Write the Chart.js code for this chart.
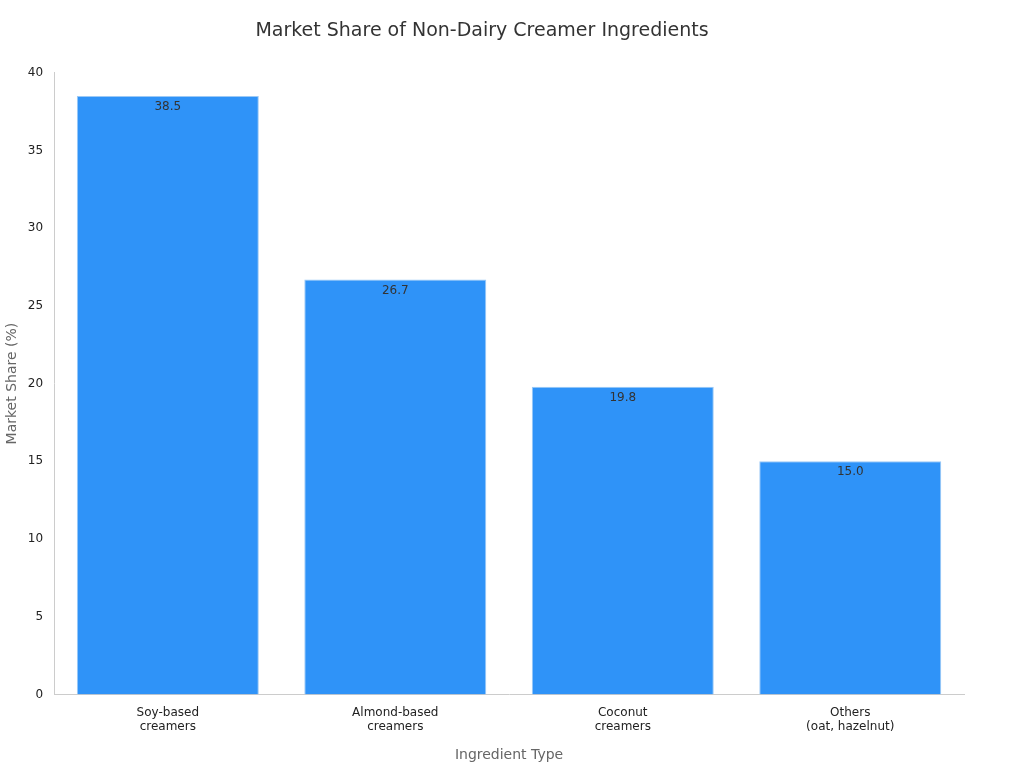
<!DOCTYPE html>
<html><head><meta charset="utf-8">
<script src="https://cdn.jsdelivr.net/npm/chart.js@4"></script>
<style>body{margin:0;background:#fff}#w{width:1024px;height:768px}</style>
</head><body><div id="w"><canvas id="c"></canvas></div>
<script>
const categories = [["Soy-based","creamers"],["Almond-based","creamers"],["Coconut","creamers"],["Others","(oat, hazelnut)"]];
const shares = [38.5, 26.7, 19.8, 15.0];
Chart.defaults.font.family = "DejaVu Sans";
const labelPlugin = {
  id: 'lbl',
  afterDatasetsDraw(chart) {
    const ctx = chart.ctx;
    chart.getDatasetMeta(0).data.forEach((b, i) => {
      ctx.save();
      ctx.fillStyle = '#333';
      ctx.font = '12px DejaVu Sans';
      ctx.textAlign = 'center';
      ctx.textBaseline = 'top';
      ctx.fillText(shares[i].toFixed(1), b.x, b.y + 5);
      ctx.restore();
    });
  }
};
new Chart(document.getElementById('c'), {
  type: 'bar',
  data: { labels: categories, datasets: [{ data: shares, backgroundColor: '#2f93f8', borderColor: '#9cc9f5', borderWidth: 1, categoryPercentage: 0.8, barPercentage: 1 }] },
  options: {
    responsive: true, maintainAspectRatio: false, animation: false,
    layout: { padding: { top: 10, right: 60, left: 0, bottom: 0 } },
    plugins: {
      legend: { display: false }, tooltip: { enabled: false },
      title: { display: true, text: 'Market Share of Non-Dairy Creamer Ingredients', color: '#333', font: { size: 19, weight: 'normal' }, padding: { top: 10, bottom: 30 } }
    },
    scales: {
      x: { grid: { display: false, drawTicks: true }, border: { color: '#ccc' }, ticks: { color: '#222', font: { size: 12 } },
           title: { display: true, text: 'Ingredient Type', color: '#666', font: { size: 14 }, padding: { top: 10 } } },
      y: { min: 0, max: 40, grid: { display: false }, border: { color: '#ccc' }, ticks: { stepSize: 5, color: '#222', font: { size: 12 } },
           title: { display: true, text: 'Market Share (%)', color: '#666', font: { size: 14 } } }
    }
  },
  plugins: [labelPlugin]
});
</script></body></html>
